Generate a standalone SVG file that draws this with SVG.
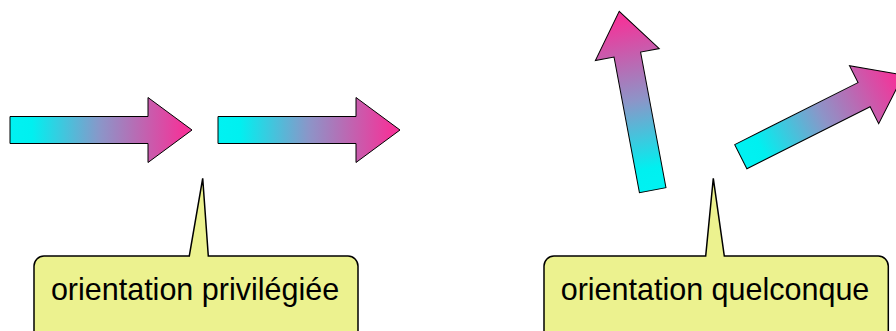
<svg xmlns="http://www.w3.org/2000/svg" width="896" height="331" viewBox="0 0 896 331">
<style>
.arrow{stroke:#000;stroke-width:1;stroke-linejoin:miter}
.callout{fill:#ECF28F;stroke:#000;stroke-width:1.5;stroke-linejoin:miter}
.lbl{font-family:"Liberation Sans",Arial,Helvetica,sans-serif;font-size:30.5px;fill:#000;text-anchor:middle}
</style>
<defs>
<linearGradient id="grad" gradientUnits="userSpaceOnUse" x1="0" y1="0" x2="182" y2="0">
<stop offset="0" stop-color="#00F2F2"/>
<stop offset="0.12" stop-color="#00F0F0"/>
<stop offset="0.5" stop-color="#8C95C8"/>
<stop offset="0.95" stop-color="#F2359A"/>
<stop offset="1" stop-color="#F2359A"/>
</linearGradient>
<path id="arr" d="M0 -13.5 H138 V-32.5 L182 0 L138 32.5 V13.5 H0 Z"/>
</defs>
<g id="arrow1"><use href="#arr" class="arrow" fill="url(#grad)" transform="translate(10,130)"/></g>
<g id="arrow2"><use href="#arr" class="arrow" fill="url(#grad)" transform="translate(218,130)"/></g>
<g id="arrow3"><use href="#arr" class="arrow" fill="url(#grad)" transform="translate(652.7,190.2) rotate(-100.6)"/></g>
<g id="arrow4"><use href="#arr" class="arrow" fill="url(#grad)" transform="translate(740.8,156.7) rotate(-26.7)"/></g>
<g id="callout1">
<path class="callout" d="M44 256 H189.3 L202.7 178.3 L208.3 256 H348 A10 10 0 0 1 358 266 V345 H34 V266 A10 10 0 0 1 44 256 Z"/>
<text class="lbl" x="195" y="300">orientation privilégiée</text>
</g>
<g id="callout2">
<path class="callout" d="M554 256 H705.7 L713.3 178.3 L724.3 256 H878.3 A10 10 0 0 1 888.3 266 V345 H544 V266 A10 10 0 0 1 554 256 Z"/>
<text class="lbl" x="715" y="300">orientation quelconque</text>
</g>
<g id="connectors"></g>
</svg>
